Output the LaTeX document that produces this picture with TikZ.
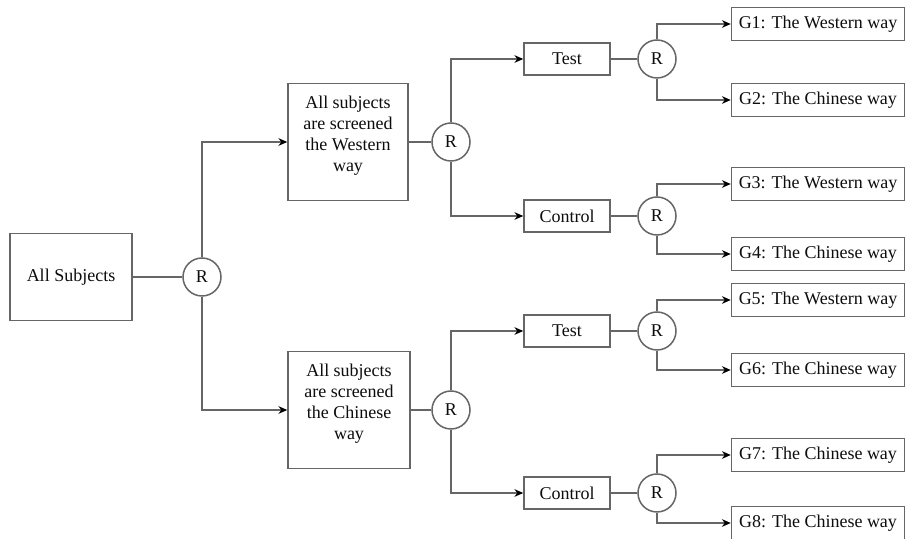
\documentclass[tikz,border=0pt]{standalone}
\usepackage{fontspec}
\setmainfont{Liberation Serif}
\usetikzlibrary{arrows.meta}
\newlength{\du}
\setlength{\du}{0.5pt}
\definecolor{dialinecolor}{rgb}{0.400000, 0.400000, 0.400000}
\definecolor{diatextcolor}{rgb}{0.050000, 0.050000, 0.050000}

\begin{document}
\begin{tikzpicture}[x=\du,y=-\du,
  box/.style={draw=dialinecolor,line width=0.75pt,fill=white,inner sep=0pt,align=center,
    text=diatextcolor,font=\fontsize{9}{10.5}\selectfont},
  bigbox/.style={box,text depth=8.5pt},
  rcirc/.style={draw=dialinecolor,line width=0.75pt,fill=white,circle,inner sep=0pt,
    minimum size=38\du,text=diatextcolor,font=\fontsize{9}{10.5}\selectfont},
  link/.style={draw=dialinecolor,line width=0.75pt},
  arr/.style={link,-{Stealth[length=4.4pt,width=3.8pt,color=black]}}]
\useasboundingbox (0,0) rectangle (907,539);
% first split
\node[box,minimum width=122\du,minimum height=87\du] (all) at (71,277) {All Subjects};
\node[rcirc] (r1) at (202,277) {R};
\node[bigbox,minimum width=120\du,minimum height=117\du] (west) at (348,142) {All subjects\\are screened\\the Western\\way};
\node[bigbox,minimum width=122\du,minimum height=117\du] (chin) at (349,410) {All subjects\\are screened\\the Chinese\\way};
\draw[link] (all) -- (r1);
\draw[arr] (r1) |- (west);
\draw[arr] (r1) |- (chin);
% western branch
\node[rcirc] (r2) at (451,142) {R};
\node[box,minimum width=86\du,minimum height=32\du] (testw) at (567,59) {Test};
\node[box,minimum width=86\du,minimum height=32\du] (ctrlw) at (567,216) {Control};
\draw[link] (west) -- (r2);
\draw[arr] (r2) |- (testw);
\draw[arr] (r2) |- (ctrlw);
\node[rcirc] (r3) at (657,59) {R};
\node[rcirc] (r4) at (657,216) {R};
\node[box,minimum width=173\du,minimum height=33\du] (g1) at (818,24) {G1: The Western way};
\node[box,minimum width=173\du,minimum height=33\du] (g2) at (818,100) {G2: The Chinese way};
\node[box,minimum width=173\du,minimum height=33\du] (g3) at (818,184) {G3: The Western way};
\node[box,minimum width=173\du,minimum height=33\du] (g4) at (818,254) {G4: The Chinese way};
\draw[link] (testw) -- (r3);
\draw[link] (ctrlw) -- (r4);
\draw[arr] (r3) |- (g1);
\draw[arr] (r3) |- (g2);
\draw[arr] (r4) |- (g3);
\draw[arr] (r4) |- (g4);
% chinese branch
\node[rcirc] (r5) at (451,410) {R};
\node[box,minimum width=86\du,minimum height=32\du] (testc) at (567,331) {Test};
\node[box,minimum width=86\du,minimum height=32\du] (ctrlc) at (567,493) {Control};
\draw[link] (chin) -- (r5);
\draw[arr] (r5) |- (testc);
\draw[arr] (r5) |- (ctrlc);
\node[rcirc] (r6) at (657,331) {R};
\node[rcirc] (r7) at (657,493) {R};
\node[box,minimum width=173\du,minimum height=33\du] (g5) at (818,300) {G5: The Western way};
\node[box,minimum width=173\du,minimum height=33\du] (g6) at (818,370) {G6: The Chinese way};
\node[box,minimum width=173\du,minimum height=33\du] (g7) at (818,455) {G7: The Chinese way};
\node[box,minimum width=173\du,minimum height=33\du] (g8) at (818,523) {G8: The Chinese way};
\draw[link] (testc) -- (r6);
\draw[link] (ctrlc) -- (r7);
\draw[arr] (r6) |- (g5);
\draw[arr] (r6) |- (g6);
\draw[arr] (r7) |- (g7);
\draw[arr] (r7) |- (g8);
\end{tikzpicture}
\end{document}
